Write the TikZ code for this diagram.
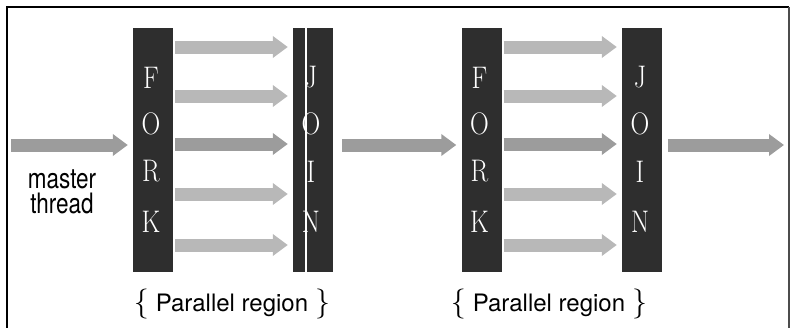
\documentclass[tikz,border=0pt]{standalone}
\usepackage{fontspec}
\newfontfamily\helv{TeX Gyre Heros}
\usetikzlibrary{arrows.meta}
\definecolor{barc}{HTML}{2E2E2E}
\definecolor{thrlight}{HTML}{B8B8B8}
\definecolor{thrdark}{HTML}{9C9C9C}
\tikzset{
  bar/.style={fill=barc, draw=none, minimum width=40pt, minimum height=244pt, inner sep=0pt, anchor=center},
  barletter/.style={text=white, font=\fontsize{26}{26}\selectfont, inner sep=0pt, yscale=1.2, transform shape},
  thr/.style={draw=thrlight, line width=13pt, -{Triangle[length=15pt,width=21pt,fill=thrlight]}, shorten <=2pt, shorten >=5pt},
  thrmain/.style={thr, draw=thrdark, -{Triangle[length=15pt,width=21pt,fill=thrdark]}},
  masterlabel/.style={font=\helv\fontsize{22.5}{20}\selectfont, align=center, inner sep=0pt, yscale=1.25, transform shape},
  region/.style={font=\helv\fontsize{24}{26}\selectfont, inner sep=0pt, anchor=base},
}
\newcommand{\regiontext}{{\fontsize{30}{30}\selectfont\rmfamily\textbraceleft}\hspace{7pt}Parallel region\hspace{7pt}{\fontsize{30}{30}\selectfont\rmfamily\textbraceright}}
\begin{document}
\begin{tikzpicture}[x=1pt,y=-1pt]
\useasboundingbox (0,0) rectangle (791,327);
% frame
\draw[line width=1.8pt] (7,330) -- (7,7) -- (789,7);
\draw[line width=1.2pt, black!70] (789,7) -- (789,330);
% bars
\node[bar] (fork1) at (153,150) {};
\node[bar] (join1) at (313,150) {};
\node[bar] (fork2) at (481.5,150) {};
\node[bar] (join2) at (642,150) {};
\draw[white, line width=1.3pt] ([xshift=-7pt]join1.north) -- ([xshift=-7pt]join1.south);
% letters
\foreach \b/\s in {fork1/F,fork2/F,join1/J,join2/J}{\node[barletter] (\b-1) at ([xshift=-2pt]\b.center |- 0,77.5) {\s};}
\foreach \b/\s in {fork1/O,fork2/O,join1/O,join2/O}{\node[barletter] (\b-2) at ([xshift=-2pt]\b.center |- 0,124) {\s};}
\foreach \b/\s in {fork1/R,fork2/R,join1/I,join2/I}{\node[barletter] (\b-3) at ([xshift=-2pt]\b.center |- 0,171.5) {\s};}
\foreach \b/\s in {fork1/K,fork2/K,join1/N,join2/N}{\node[barletter] (\b-4) at ([xshift=-2pt]\b.center |- 0,221.5) {\s};}
% master thread
\coordinate (start) at (11,145);
\coordinate (finish) at (784,145);
\draw[thrmain, shorten <=0pt] (start) -- (fork1.west |- start);
\draw[thrmain, shorten <=9pt] (join1.east |- start) -- (fork2.west |- start);
\draw[thrmain, shorten <=6pt, shorten >=0pt] (join2.east |- start) -- (finish);
% parallel threads
\foreach \y in {47,96,194,245}{
  \draw[thr] (fork1.east |- 0,\y) -- (join1.west |- 0,\y);
  \draw[thr] (fork2.east |- 0,\y) -- (join2.west |- 0,\y);
}
\draw[thrmain] (fork1.east |- 0,144) -- (join1.west |- 0,144);
\draw[thrmain] (fork2.east |- 0,144) -- (join2.west |- 0,144);
% labels
\node[masterlabel] (master) at (62,191.5) {master\\thread};
\node[region] (reg1) at (232,311) {\regiontext};
\node[region] (reg2) at (549,311) {\regiontext};
\end{tikzpicture}
\end{document}
